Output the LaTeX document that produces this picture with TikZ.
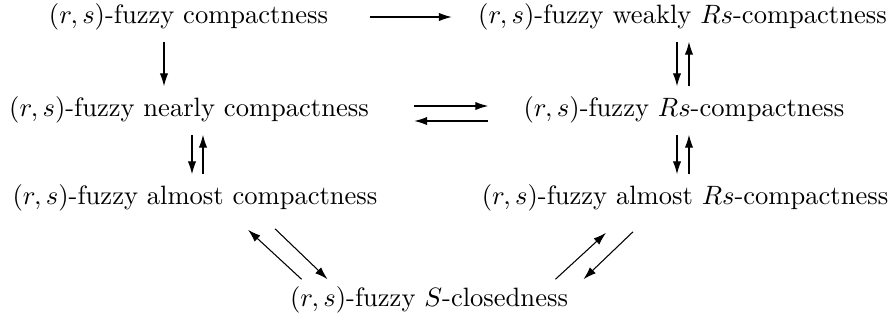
\documentclass[tikz,border=0pt]{standalone}
\usepackage{amsmath,amssymb}
\usepackage{tikz}
\usetikzlibrary{arrows.meta,positioning,calc}
\tikzset{prop/.style={inner sep=3pt,font=\normalsize},
  imp/.style={-{Latex[length=1.7mm,width=1.1mm]},thin}}

\begin{document}
\begin{tikzpicture}[x=0.3766pt,y=-0.3766pt]
\useasboundingbox (0,0) rectangle (896,327);
\node[prop] (cpt) at (188.5,17) {$(r,s)$-fuzzy compactness};
\node[prop] (wrs) at (682.5,17) {$(r,s)$-fuzzy weakly $Rs$-compactness};
\node[prop] (near) at (189,110) {$(r,s)$-fuzzy nearly compactness};
\node[prop] (rsc) at (684,110) {$(r,s)$-fuzzy $Rs$-compactness};
\node[prop] (alm) at (195,198) {$(r,s)$-fuzzy almost compactness};
\node[prop] (ars) at (685,198) {$(r,s)$-fuzzy almost $Rs$-compactness};
\node[prop] (scl) at (429,300) {$(r,s)$-fuzzy $S$-closedness};
% top row
\draw[imp] ($(cpt.east)+(33,0)$) -- ($(cpt.east -| wrs.west)+(-18,0)$);
\draw[imp] ($(cpt.south)+(-24.5,3)$) -- ($(cpt.south |- near.north)+(-24.5,-2)$);
\draw[imp] ($(wrs.south)+(-5.5,3)$) -- ($(wrs.south |- rsc.north)+(-5.5,-2)$);
\draw[imp] ($(wrs.south |- rsc.north)+(6.5,-2)$) -- ($(wrs.south)+(6.5,3)$);
% middle row
\draw[imp] ($(near.east)+(37,-4)$) -- ($(near.east -| rsc.west)+(-27,-4)$);
\draw[imp] ($(near.east -| rsc.west)+(-27,11)$) -- ($(near.east)+(37,11)$);
\draw[imp] ($(near.south)+(3,3)$) -- ($(near.south |- alm.north)+(3,-2)$);
\draw[imp] ($(near.south |- alm.north)+(14,-2)$) -- ($(near.south)+(14,3)$);
\draw[imp] ($(rsc.south)+(-7,3)$) -- ($(rsc.south |- ars.north)+(-7,-2)$);
\draw[imp] ($(rsc.south |- ars.north)+(5,-2)$) -- ($(rsc.south)+(5,3)$);
% towards S-closedness
\draw[imp] ($(scl.north west)+(20,1)$) -- ($(alm.south)+(53,10)$);
\draw[imp] ($(alm.south)+(80,9)$) -- ($(scl.north west)+(46,1)$);
\draw[imp] ($(scl.north east)+(-21,1)$) -- ($(ars.south)+(-79,13)$);
\draw[imp] ($(ars.south)+(-52,12)$) -- ($(scl.north east)+(7,1)$);
\end{tikzpicture}
\end{document}
